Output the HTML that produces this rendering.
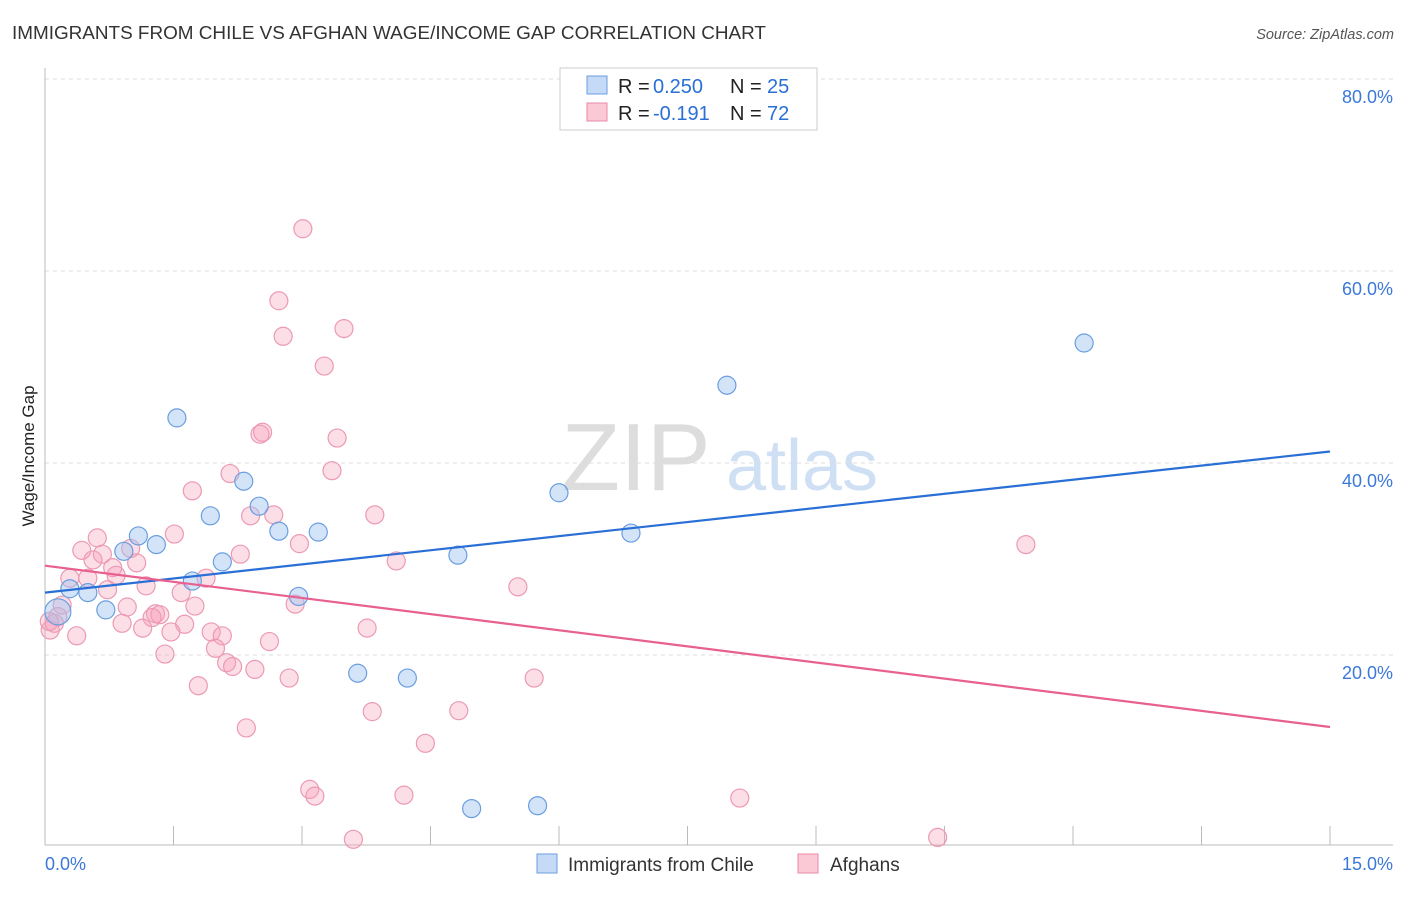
<!DOCTYPE html>
<html><head><meta charset="utf-8"><style>
body{margin:0;background:#fff;font-family:"Liberation Sans",sans-serif;}
svg text{font-family:"Liberation Sans",sans-serif;}
</style></head><body>
<svg id="chart" width="1406" height="892" viewBox="0 0 1406 892">
<text x="12" y="39" font-size="18.9" fill="#333">IMMIGRANTS FROM CHILE VS AFGHAN WAGE/INCOME GAP CORRELATION CHART</text>
<text x="1394" y="39" font-size="14.5" fill="#555" font-style="italic" text-anchor="end">Source: ZipAtlas.com</text>
<g>
<text x="636" y="490" font-size="96" fill="#ddd" font-family="Liberation Serif" text-anchor="middle">ZIP</text>
<text x="802" y="490" font-size="72" fill="#cfe0f5" text-anchor="middle">atlas</text>
</g>
<g id="grid"></g>
<g id="axes"></g>
<g id="marks"></g>
<g id="lines"></g>
<text transform="translate(34,456) rotate(-90)" font-size="17" fill="#222" text-anchor="middle">Wage/Income Gap</text>
<g>
<rect x="560" y="68" width="257" height="62" fill="#fff" stroke="#ccc"/>
<rect x="587" y="76" width="20" height="18" fill="#c5daf6" stroke="#6a9ee0"/>
<rect x="587" y="103" width="20" height="18" fill="#fbc8d6" stroke="#e88aa7"/>
<g font-size="20" fill="#222">
<text x="618" y="93">R =</text><text x="653" y="93" fill="#2a6fd6">0.250</text>
<text x="730" y="93">N =</text><text x="767" y="93" fill="#2a6fd6">25</text>
</g>
<g font-size="20" fill="#222">
<text x="618" y="120">R =</text><text x="653" y="120" fill="#2a6fd6">-0.191</text>
<text x="730" y="120">N =</text><text x="767" y="120" fill="#2a6fd6">72</text>
</g>
</g>
<g>
<rect x="537" y="854" width="20" height="19" fill="#c5daf6" stroke="#6a9ee0"/>
<text x="568" y="871" font-size="19" fill="#333">Immigrants from Chile</text>
<rect x="798" y="854" width="20" height="19" fill="#fbc8d6" stroke="#e88aa7"/>
<text x="830" y="871" font-size="19" fill="#333">Afghans</text>
</g>
</svg>
<script>
const yTicks=[20,40,60,80];
const yTickLabels=["20.0%","40.0%","60.0%","80.0%"];
const xTickLabels=["0.0%","15.0%"];
const chileX=[1.54,2.32,1.93,2.50,2.73,3.19,1.09,1.30,0.92,2.07,1.72,0.29,0.50,2.96,0.71,0.15,6.00,4.82,6.84,7.96,12.13,3.65,4.23,4.98,5.75];
const chileY=[44.7,38.1,34.5,35.5,32.9,32.8,32.4,31.5,30.8,29.7,27.7,26.9,26.5,26.1,24.7,24.5,36.9,30.4,32.7,48.1,52.5,18.1,17.6,4.0,4.3];
const afgX=[3.01,2.73,2.78,3.49,3.26,2.54,2.51,3.41,3.35,2.16,1.72,2.40,2.67,3.85,1.51,0.61,1.00,0.43,2.97,2.28,0.67,0.56,1.07,0.79,4.10,0.83,1.88,0.50,0.29,1.18,5.52,0.73,1.59,0.96,1.75,2.92,0.20,1.29,1.34,1.25,0.90,1.14,1.63,0.11,0.06,1.47,1.94,2.07,3.76,0.37,2.62,1.99,1.40,2.12,2.19,2.45,2.85,5.71,1.79,3.82,4.83,2.35,4.44,3.09,3.15,4.19,8.11,3.60,10.42,11.45,0.15,0.05];
const afgY=[64.4,56.9,53.2,54.0,50.1,43.2,43.0,42.6,39.2,38.9,37.1,34.5,34.6,34.6,32.6,32.2,31.1,30.9,31.6,30.5,30.5,29.9,29.6,29.1,29.8,28.3,28.0,28.0,28.0,27.2,27.1,26.8,26.5,25.0,25.1,25.3,25.2,24.3,24.2,23.9,23.3,22.8,23.2,23.3,22.6,22.4,22.4,22.0,22.8,22.0,21.4,20.7,20.1,19.2,18.8,18.5,17.6,17.6,16.8,14.1,14.2,12.4,10.8,6.0,5.3,5.4,5.1,0.8,1.0,31.5,24.0,23.5];
const chileTrend=[26.5,41.2];
const afgTrend=[29.3,12.5];
const NS="http://www.w3.org/2000/svg";
const X0=45,X1=1330,Y0=847,PPY=192/20;
const sx=v=>X0+(v/15)*(X1-X0);
const sy=v=>Y0-v*PPY;
function mk(tag,attrs,parent){const e=document.createElementNS(NS,tag);for(const k in attrs)e.setAttribute(k,attrs[k]);document.getElementById(parent).appendChild(e);return e;}
yTicks.forEach((t,i)=>{
 const g=mk('line',{x1:45,x2:1393,y1:sy(t),y2:sy(t),stroke:'#ddd','stroke-dasharray':'4,4'},'grid');
 
 
 const l=mk('text',{x:1393,y:sy(t)+24,'font-size':18,fill:'#3b78d8','text-anchor':'end'},'axes');
 l.textContent=yTickLabels[i];
 
 
});
const ya=mk('line',{x1:45,x2:45,y1:68,y2:845,stroke:'#bbb'},'axes');


const xa=mk('line',{x1:45,x2:1393,y1:845,y2:845,stroke:'#bbb'},'axes');


for(let i=0;i<=10;i++){
 const t=mk('line',{x1:sx(i*1.5),x2:sx(i*1.5),y1:826,y2:845,stroke:'#bbb'},'axes');
 
 
}
[[0,'start',45],[15,'end',1393]].forEach((d,i)=>{
 const l=mk('text',{x:d[2],y:870,'font-size':18,fill:'#3b78d8','text-anchor':d[1]},'axes');
 l.textContent=xTickLabels[i];
 
 
});
afgX.forEach((v,i)=>{
 const c=mk('circle',{cx:sx(v),cy:sy(afgY[i]),r:9,fill:'rgba(245,160,186,0.35)',stroke:'#ec9ab4','stroke-width':1.2},'marks');
 
 
});
chileX.forEach((v,i)=>{
 const c=mk('circle',{cx:sx(v),cy:sy(chileY[i]),r:i==15?13:9,fill:'rgba(160,195,240,0.45)',stroke:'#6a9ee0','stroke-width':1.2},'marks');
 
 
});
const tl1=mk('line',{x1:sx(0),x2:sx(15),y1:sy(chileTrend[0]),y2:sy(chileTrend[1]),stroke:'#2a6fd6','stroke-width':2.2},'lines');


const tl2=mk('line',{x1:sx(0),x2:sx(15),y1:sy(afgTrend[0]),y2:sy(afgTrend[1]),stroke:'#e8608f','stroke-width':2.2},'lines');


</script>
</body></html>
